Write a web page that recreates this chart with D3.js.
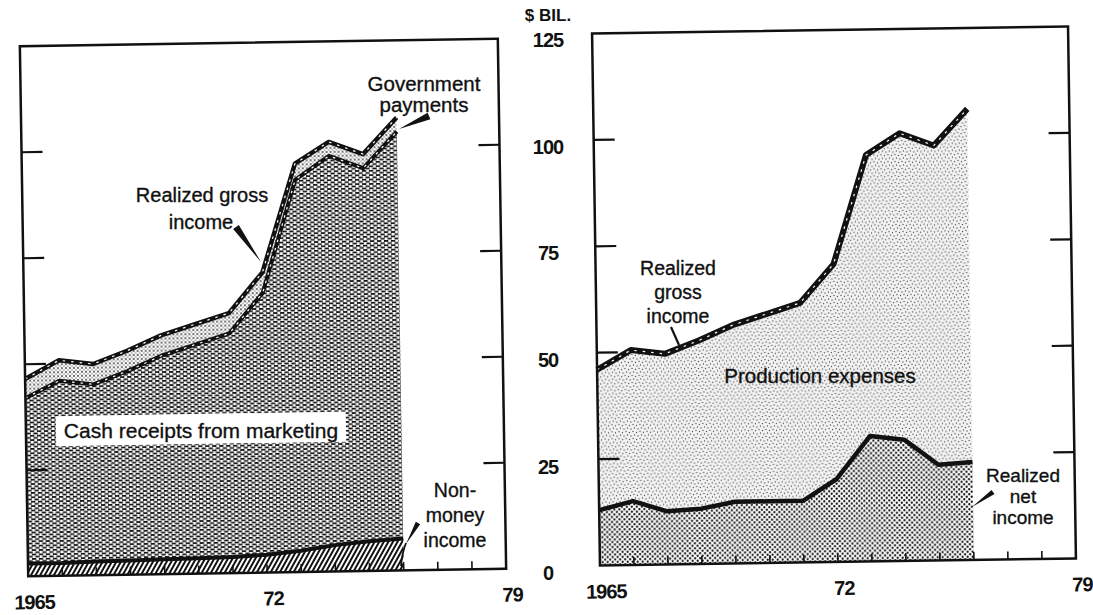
<!DOCTYPE html>
<html>
<head>
<meta charset="utf-8">
<script src="https://cdn.jsdelivr.net/npm/d3@7/dist/d3.min.js"></script>
<style>
  body { margin: 0; background: #fff; }
  text { font-family: "Liberation Sans", Arial, Helvetica, sans-serif; fill: #111; }
</style>
</head>
<body>
<svg id="chart" width="1093" height="615"></svg>
<script>
// data (billions of dollars)
const years          = [1965, 1966, 1967, 1968, 1969, 1970, 1971, 1972, 1973, 1974, 1975, 1976];
const nonmoneyIncome = [3.0, 3.0, 3.2, 3.3, 3.5, 3.6, 3.8, 4.2, 5.0, 6.2, 7.0, 7.5];
const cashReceipts   = [39.0, 43.0, 41.8, 44.7, 48.0, 50.4, 52.7, 61.8, 87.5, 91.8, 88.0, 96.0];
const govPayments    = [4.5, 4.8, 4.8, 4.8, 4.8, 4.8, 4.8, 4.8, 3.8, 3.3, 3.3, 3.3];
const grossIncome    = [46.0, 50.5, 49.5, 52.5, 56.0, 58.5, 61.0, 70.0, 95.5, 100.5, 97.5, 106.0];
const netIncome      = [13.0, 15.0, 12.5, 13.0, 14.5, 14.5, 14.5, 19.5, 29.5, 28.5, 22.5, 23.0];

const yTickValues = [0, 25, 50, 75, 100, 125];
const xLabelYears = [1965, 1972, 1979];
const xLabelText  = ["1965", "72", "79"];
const tickYears   = d3.range(1966, 1979);

let svg = d3.select("#chart");

// patterns
// ---------------------------------------------------------
let defs = svg.append("defs");

let dash = defs.append("pattern").attr("id", "dash")
    .attr("patternUnits", "userSpaceOnUse").attr("width", 7).attr("height", 4.4);
dash.append("rect").attr("width", 7).attr("height", 4.4).attr("fill", "#fff");
dash.append("rect").attr("x", 0).attr("y", 0).attr("width", 4.3).attr("height", 1.7).attr("fill", "#111");
dash.append("rect").attr("x", 3.5).attr("y", 2.2).attr("width", 4.3).attr("height", 1.7).attr("fill", "#111");
dash.append("rect").attr("x", -3.5).attr("y", 2.2).attr("width", 4.3).attr("height", 1.7).attr("fill", "#111");

let hatch = defs.append("pattern").attr("id", "hatch")
    .attr("patternUnits", "userSpaceOnUse").attr("width", 4).attr("height", 4)
    .attr("patternTransform", "rotate(30)");
hatch.append("rect").attr("width", 4).attr("height", 4).attr("fill", "#fff");
hatch.append("rect").attr("width", 2).attr("height", 4).attr("fill", "#111");

let dotsLight = defs.append("pattern").attr("id", "dotsLight")
    .attr("patternUnits", "userSpaceOnUse").attr("width", 4).attr("height", 4);
dotsLight.append("rect").attr("width", 4).attr("height", 4).attr("fill", "#fff");
dotsLight.append("circle").attr("cx", 1).attr("cy", 1).attr("r", 0.9).attr("fill", "#333");
dotsLight.append("circle").attr("cx", 3).attr("cy", 3).attr("r", 0.7).attr("fill", "#555");

let stipple = defs.append("pattern").attr("id", "stipple")
    .attr("patternUnits", "userSpaceOnUse").attr("width", 7).attr("height", 7);
stipple.append("rect").attr("width", 7).attr("height", 7).attr("fill", "#f3f3f3");
[[1, 1.5], [4.5, 2.5], [2.5, 5], [6, 6]].forEach(p => {
    stipple.append("circle").attr("cx", p[0]).attr("cy", p[1]).attr("r", 0.65).attr("fill", "#444");
});

let dotsDense = defs.append("pattern").attr("id", "dotsDense")
    .attr("patternUnits", "userSpaceOnUse").attr("width", 5).attr("height", 5);
dotsDense.append("rect").attr("width", 5).attr("height", 5).attr("fill", "#fff");
dotsDense.append("circle").attr("cx", 1.25).attr("cy", 1.25).attr("r", 1.15).attr("fill", "#111");
dotsDense.append("circle").attr("cx", 3.75).attr("cy", 3.75).attr("r", 1.15).attr("fill", "#111");

// panel helper: frame, ticks and year labels, slightly tilted like the scan
// ---------------------------------------------------------
function makePanel(x0, x1, y0, y1, angle) {
    let g = svg.append("g")
        .attr("transform", `rotate(${angle},${(x0 + x1) / 2},${(y0 + y1) / 2})`);
    let x = d3.scaleLinear().domain([1965, 1979]).range([x0, x1]);
    let y = d3.scaleLinear().domain([0, 125]).range([y1, y0]);
    return { g, x, y, x0, x1, y0, y1 };
}

function drawFrame(p) {
    let g = p.g;
    let inner = yTickValues.filter(v => v > 0 && v < 125);
    g.selectAll(".tickL").data(inner).enter().append("line")
        .attr("x1", p.x0).attr("x2", p.x0 + 21)
        .attr("y1", d => p.y(d)).attr("y2", d => p.y(d))
        .attr("stroke", "#111").attr("stroke-width", 2.2);
    g.selectAll(".tickR").data(inner).enter().append("line")
        .attr("x1", p.x1 - 21).attr("x2", p.x1)
        .attr("y1", d => p.y(d)).attr("y2", d => p.y(d))
        .attr("stroke", "#111").attr("stroke-width", 2.2);
    g.selectAll(".tickB").data(tickYears).enter().append("line")
        .attr("x1", d => p.x(d)).attr("x2", d => p.x(d))
        .attr("y1", p.y1).attr("y2", p.y1 - 8)
        .attr("stroke", "#111").attr("stroke-width", 1.6);
    g.append("rect")
        .attr("x", p.x0).attr("y", p.y0)
        .attr("width", p.x1 - p.x0).attr("height", p.y1 - p.y0)
        .attr("fill", "none").attr("stroke", "#111").attr("stroke-width", 2.5);
    g.selectAll(".xlab").data(xLabelYears).enter().append("text")
        .attr("x", d => p.x(d) + 6)
        .attr("y", p.y1 + 33)
        .attr("text-anchor", "middle")
        .attr("font-size", 20).attr("font-weight", "bold")
        .attr("letter-spacing", -1)
        .text((d, i) => xLabelText[i]);
}

function ropeLine(g, line, data, w) {
    g.append("path").datum(data).attr("d", line)
        .attr("fill", "none").attr("stroke", "#111")
        .attr("stroke-width", w).attr("stroke-linejoin", "round");
    g.append("path").datum(data).attr("d", line)
        .attr("fill", "none").attr("stroke", "#fff")
        .attr("stroke-width", 1.2).attr("stroke-dasharray", "2.5 6");
}

// left panel: components of gross income
// ---------------------------------------------------------
let left = makePanel(24, 502, 42.5, 572.5, -0.9);

let rows = years.map((yr, i) => ({
    year: yr, nonmoney: nonmoneyIncome[i], cash: cashReceipts[i], gov: govPayments[i]
}));
let stacked = d3.stack().keys(["nonmoney", "cash", "gov"])(rows);

let areaL = d3.area()
    .x(d => left.x(d.data.year))
    .y0(d => left.y(d[0]))
    .y1(d => left.y(d[1]));
let fills = ["url(#hatch)", "url(#dash)", "url(#dotsLight)"];

left.g.selectAll(".layer").data(stacked).enter().append("path")
    .attr("class", "layer")
    .attr("d", areaL)
    .attr("fill", (d, i) => fills[i]);

let topLine = d3.line().x(d => left.x(d.data.year)).y(d => left.y(d[1]));
left.g.append("path").datum(stacked[0]).attr("d", topLine)
    .attr("fill", "none").attr("stroke", "#111").attr("stroke-width", 4);
ropeLine(left.g, topLine, stacked[1], 4);
ropeLine(left.g, topLine, stacked[2], 4.5);

drawFrame(left);

// right panel: gross income split into expenses and net income
// ---------------------------------------------------------
let right = makePanel(596, 1072, 30, 562, -0.85);

let areaGross = d3.area()
    .x((d, i) => right.x(years[i]))
    .y0(right.y(0))
    .y1(d => right.y(d));
let lineR = d3.line()
    .x((d, i) => right.x(years[i]))
    .y(d => right.y(d));

right.g.append("path").datum(grossIncome).attr("d", areaGross).attr("fill", "url(#stipple)");
right.g.append("path").datum(netIncome).attr("d", areaGross).attr("fill", "url(#dotsDense)");
right.g.append("path").datum(netIncome).attr("d", lineR)
    .attr("fill", "none").attr("stroke", "#111").attr("stroke-width", 4.5)
    .attr("stroke-linejoin", "round");
ropeLine(right.g, lineR, grossIncome, 6);

drawFrame(right);

// shared value axis in the middle
// ---------------------------------------------------------
let yMid = d3.scaleLinear().domain([0, 125]).range([573, 40]);
svg.selectAll(".ylab").data(yTickValues).enter().append("text")
    .attr("x", 548)
    .attr("y", d => yMid(d))
    .attr("dy", "0.36em")
    .attr("text-anchor", "middle")
    .attr("font-size", 20).attr("font-weight", "bold")
    .attr("letter-spacing", -1)
    .text(d => d);
svg.append("text")
    .attr("x", 548).attr("y", 21)
    .attr("text-anchor", "middle")
    .attr("font-size", 17).attr("font-weight", "bold")
    .text("$ BIL.");

// annotations
// ---------------------------------------------------------
function wedge(bx, by, tx, ty, w) {
    let dx = tx - bx, dy = ty - by, len = Math.hypot(dx, dy);
    let nx = -dy / len * w / 2, ny = dx / len * w / 2;
    svg.append("path")
        .attr("d", `M${bx + nx},${by + ny}L${bx - nx},${by - ny}L${tx},${ty}Z`)
        .attr("fill", "#111");
}

// white box behind the marketing label
svg.append("rect")
    .attr("x", 56).attr("y", 414)
    .attr("width", 290).attr("height", 30)
    .attr("fill", "#fff")
    .attr("transform", "rotate(-0.9,200,430)");

let notes = [
    { t: "Government", x: 424, y: 91, s: 20.5 },
    { t: "payments", x: 424, y: 112, s: 20.5 },
    { t: "Realized gross", x: 202, y: 202, s: 20 },
    { t: "income", x: 201, y: 229, s: 20 },
    { t: "Cash receipts from marketing", x: 201, y: 438, s: 21 },
    { t: "Non-", x: 455, y: 497, s: 19.5 },
    { t: "money", x: 455, y: 522, s: 19.5 },
    { t: "income", x: 455, y: 547, s: 19.5 },
    { t: "Realized", x: 678, y: 275, s: 19.5 },
    { t: "gross", x: 678, y: 299, s: 19.5 },
    { t: "income", x: 678, y: 323, s: 19.5 },
    { t: "Production expenses", x: 820, y: 383, s: 20.5 },
    { t: "Realized", x: 1023, y: 482, s: 19 },
    { t: "net", x: 1023, y: 503, s: 19 },
    { t: "income", x: 1023, y: 524, s: 19 }
];
svg.selectAll(".note").data(notes).enter().append("text")
    .attr("class", "note")
    .attr("x", d => d.x).attr("y", d => d.y)
    .attr("text-anchor", "middle")
    .attr("font-size", d => d.s)
    .attr("stroke", "#111").attr("stroke-width", 0.35)
    .text(d => d.t);

wedge(236, 227, 261, 262, 7);
wedge(429, 116, 399, 129, 7);
wedge(418, 523, 406, 544, 5);
svg.append("path").attr("d", "M406,543Q402,553,401,566")
    .attr("fill", "none").attr("stroke", "#111").attr("stroke-width", 1.8);
svg.append("line").attr("x1", 671).attr("y1", 327).attr("x2", 679).attr("y2", 345)
    .attr("stroke", "#111").attr("stroke-width", 2.2);
wedge(993, 492, 972, 507, 5);
</script>
</body>
</html>
